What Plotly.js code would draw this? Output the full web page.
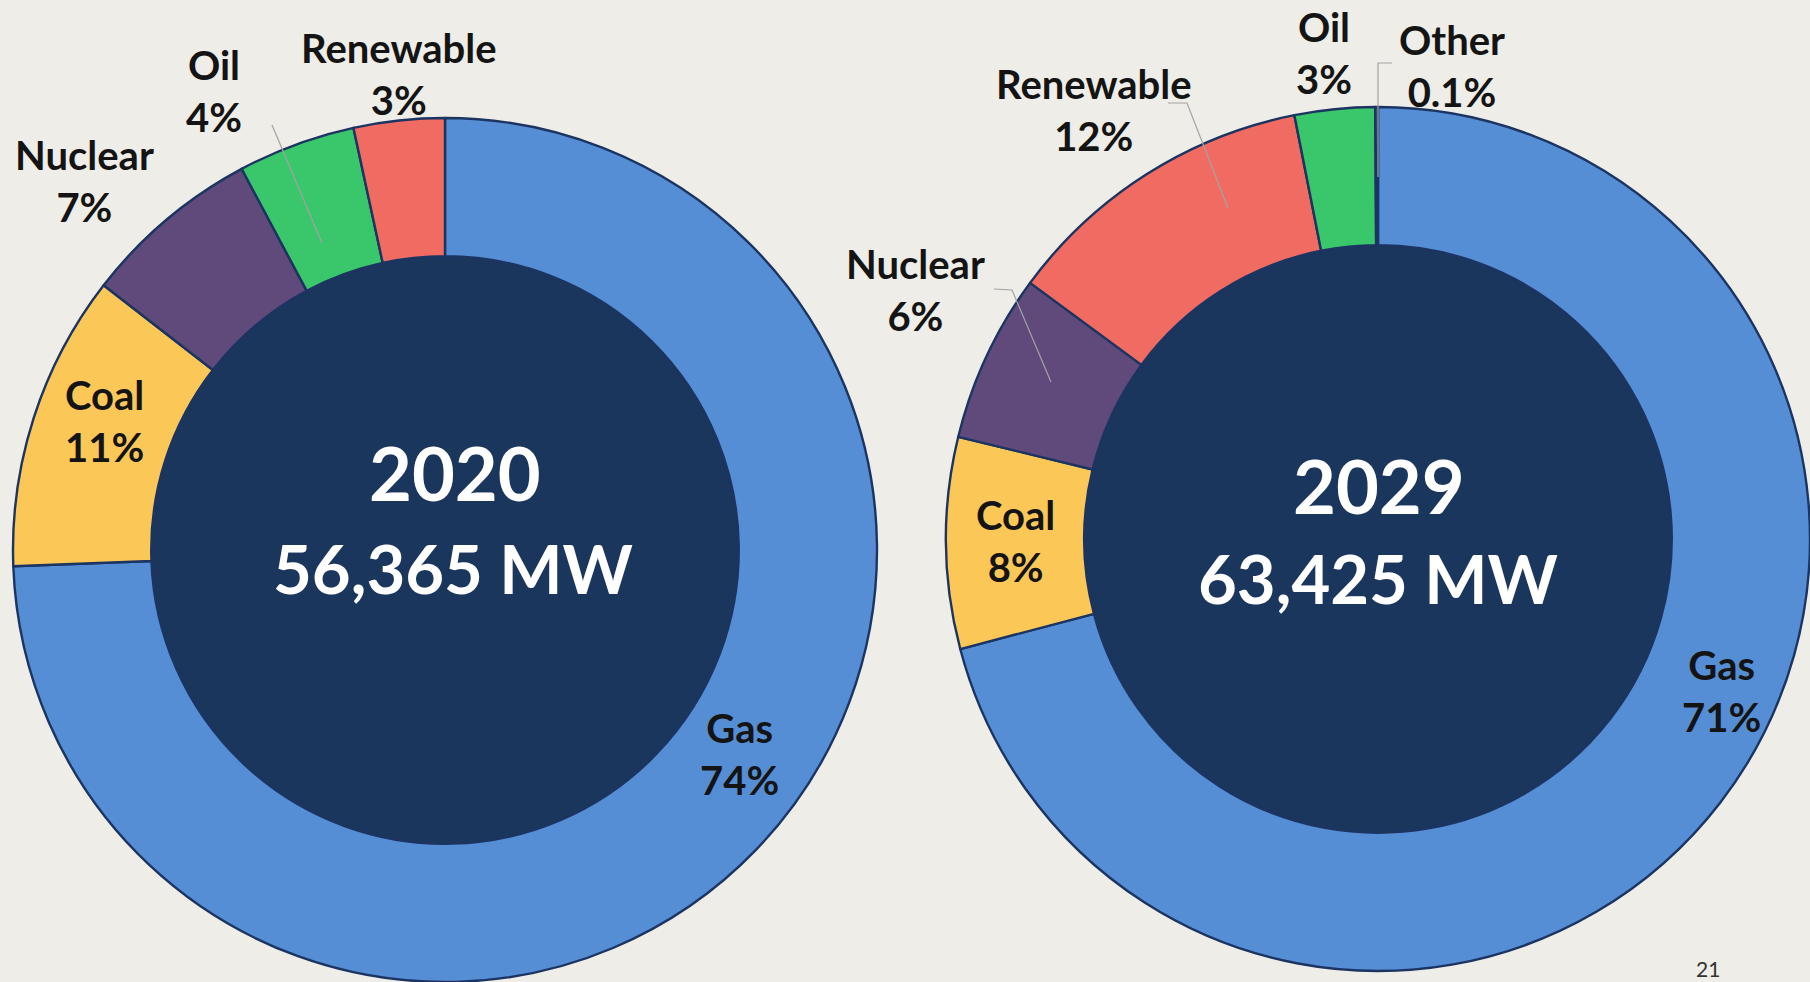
<!DOCTYPE html>
<html><head><meta charset="utf-8">
<script src="https://cdn.plot.ly/plotly-3.0.1.min.js"></script>
<style>html,body{margin:0;padding:0;background:#eeede7;overflow:hidden;}#chart{width:1810px;height:982px;}</style>
</head><body><div id="chart"></div>
<script>
// ---- data ----
const years = ['2020', '2029'];
const totalsMW = [56365, 63425];
const fuels2020 = ['Gas', 'Coal', 'Nuclear', 'Oil', 'Renewable'];
const share2020 = [74.4, 11.1, 6.7, 4.4, 3.4];
const pctLabels2020 = ['74%', '11%', '7%', '4%', '3%'];
const fuels2029 = ['Gas', 'Coal', 'Nuclear', 'Renewable', 'Oil', 'Other'];
const share2029 = [70.9, 7.9, 6.3, 11.8, 3.0, 0.1];
const pctLabels2029 = ['71%', '8%', '6%', '12%', '3%', '0.1%'];
const pageNumber = '21';

// ---- styles / layout geometry ----
const W = 1810, H = 982;
const fuelColors = {Gas: '#558ed5', Coal: '#fbc858', Nuclear: '#604a7b', Oil: '#3ac66a', Renewable: '#f06c63', Other: '#7f7f7f'};
const bg = '#eeede7';
const holeFrac = 0.68;
// outer domains in pixels [x0,x1,y0(top),y1(bottom)]
const donutBoxes = [[12, 878, 118, 982], [946, 1810, 107, 971]];
// label block centres (pixels)
const labelPos2020 = [[739, 754], [104, 421], [84, 181], [214, 91], [399, 74]];
const labelPos2029 = [[1721, 691], [1016, 541], [915, 290], [1094, 110], [1324, 53], [1452, 66]];
const yearPos = [[455, 472], [1379, 485]];
const totalPos = [[453, 568], [1378, 578]];
const leaderLines = [
  [[272, 125], [322, 243]],
  [[1168, 103], [1187, 103], [1228, 208]],
  [[994, 289], [1012, 290], [1051, 382]],
  [[1392, 63], [1378, 63], [1378, 177]]
];

const px = x => x / W;
const py = y => 1 - y / H;

function domainFromBox(b) {
  return {x: [px(b[0]), px(b[1])], y: [Math.max(0, py(b[3])), Math.min(1, py(b[2]))]};
}
function innerDomain(b) {
  const cx = (b[0] + b[1]) / 2, cy = (b[2] + b[3]) / 2;
  const r = Math.min(b[1] - b[0], b[3] - b[2]) / 2 * holeFrac + 1.5;
  return domainFromBox([cx - r, cx + r, cy - r, cy + r]);
}

const seriesFuels = [fuels2020, fuels2029];
const seriesShares = [share2020, share2029];
const seriesPct = [pctLabels2020, pctLabels2029];
const seriesLabelPos = [labelPos2020, labelPos2029];

const traces = [];
years.forEach((yr, i) => {
  traces.push({
    type: 'pie', name: yr + ' total',
    values: [totalsMW[i]], labels: [yr + ' total'],
    marker: {colors: ['#1b365d'], line: {width: 0}},
    textinfo: 'none', hovertemplate: yr + ': %{value:,} MW<extra></extra>',
    sort: false, showlegend: false,
    domain: innerDomain(donutBoxes[i])
  });
  traces.push({
    type: 'pie', name: yr,
    values: seriesShares[i], labels: seriesFuels[i],
    hole: holeFrac, sort: false, direction: 'clockwise', rotation: 0,
    marker: {colors: seriesFuels[i].map(f => fuelColors[f]), line: {color: '#1c3461', width: 2.4}},
    textinfo: 'none', hovertemplate: '%{label}: %{value}%<extra>' + yr + '</extra>',
    showlegend: false,
    domain: domainFromBox(donutBoxes[i])
  });
});

const annotations = [];
const labelFont = {family: 'Lato, "Open Sans", sans-serif', size: 40, color: '#141414', weight: 700};
years.forEach((yr, i) => {
  seriesFuels[i].forEach((f, j) => {
    const p = seriesLabelPos[i][j];
    annotations.push({
      xref: 'paper', yref: 'paper', x: px(p[0]), y: py(p[1]),
      xanchor: 'center', yanchor: 'middle', showarrow: false,
      text: f + '<br>' + seriesPct[i][j], font: labelFont, align: 'center'
    });
  });
  annotations.push({
    xref: 'paper', yref: 'paper', x: px(yearPos[i][0]), y: py(yearPos[i][1]),
    xanchor: 'center', yanchor: 'middle', showarrow: false, text: yr,
    font: {family: 'Lato, "Open Sans", sans-serif', size: 74, color: '#ffffff', weight: 700}
  });
  annotations.push({
    xref: 'paper', yref: 'paper', x: px(totalPos[i][0]), y: py(totalPos[i][1]),
    xanchor: 'center', yanchor: 'middle', showarrow: false,
    text: totalsMW[i].toLocaleString('en-US') + ' MW',
    font: {family: 'Lato, "Open Sans", sans-serif', size: 67, color: '#ffffff', weight: 700}
  });
});
annotations.push({
  xref: 'paper', yref: 'paper', x: px(1708), y: py(968),
  xanchor: 'center', yanchor: 'middle', showarrow: false, text: pageNumber,
  font: {family: 'Lato, "Open Sans", sans-serif', size: 21, color: '#333333'}
});

const shapes = leaderLines.map(pts => ({
  type: 'path', xref: 'paper', yref: 'paper',
  path: pts.map((p, k) => (k ? 'L' : 'M') + px(p[0]).toFixed(5) + ',' + py(p[1]).toFixed(5)).join(' '),
  line: {color: '#a3a3a3', width: 1.2}
}));

const layout = {
  width: W, height: H,
  margin: {l: 0, r: 0, t: 0, b: 0},
  paper_bgcolor: bg, plot_bgcolor: bg,
  showlegend: false,
  annotations: annotations,
  shapes: shapes
};
Plotly.newPlot('chart', traces, layout, {displayModeBar: false, staticPlot: false});
</script>
</body></html>
